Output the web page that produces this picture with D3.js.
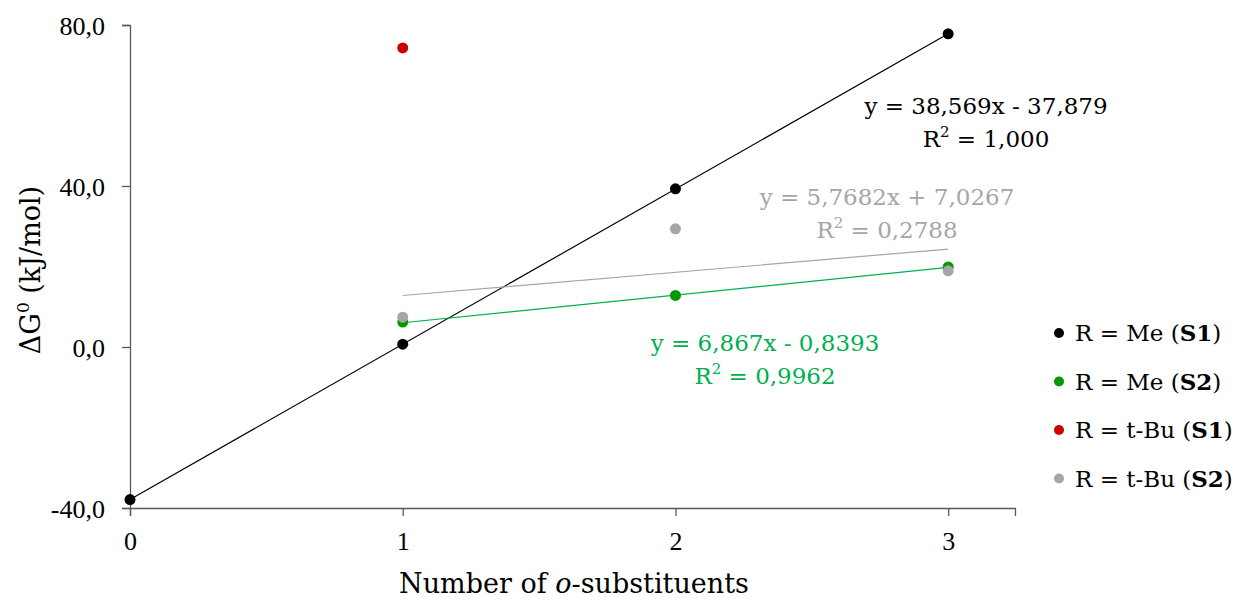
<!DOCTYPE html>
<html>
<head>
<meta charset="utf-8">
<script src="https://cdn.jsdelivr.net/npm/d3@7"></script>
<style>
  body { margin: 0; background: #fff; }
  svg text { font-family: "DejaVu Serif", "Liberation Serif", serif; }
  .tick text { font-family: "Liberation Serif", "DejaVu Serif", serif; }
</style>
</head>
<body>
<div id="chart"></div>
<script>
var width = 1236, height = 598;

// data
var meS1 = [[0, -37.9], [1, 0.7], [2, 39.3], [3, 77.8]];
var meS2 = [[1, 6.2], [2, 12.8], [3, 19.9]];
var tbuS1 = [[1, 74.3]];
var tbuS2 = [[1, 7.4], [2, 29.35], [3, 18.94]];

var xTicks = [0, 1, 2, 3];
var yTicks = [-40, 40, 0, 80];

// trend lines: slope, intercept, x range and label spot
var fits = [
  { a: 38.569, b: -37.879, x0: 0, x1: 3, color: "#000000", eq: "y = 38,569x - 37,879", r2: "1,000", lx: 986, ly: 114 },
  { a: 5.7682, b: 7.0267, x0: 1, x1: 3, color: "#a6a6a6", eq: "y = 5,7682x + 7,0267", r2: "0,2788", lx: 887, ly: 205 },
  { a: 6.867, b: -0.8393, x0: 1, x1: 3, color: "#00b050", eq: "y = 6,867x - 0,8393", r2: "0,9962", lx: 765, ly: 351 }
];

var series = [
  { name: "R = Me", tag: "S1", color: "#000000", pts: meS1 },
  { name: "R = Me", tag: "S2", color: "#009900", pts: meS2 },
  { name: "R = t-Bu", tag: "S1", color: "#cc0000", pts: tbuS1 },
  { name: "R = t-Bu", tag: "S2", color: "#a6a6a6", pts: tbuS2 }
];

var x = d3.scaleLinear().domain([0, 3.245]).range([130, 1015]);
var y = d3.scaleLinear().domain([-40, 80]).range([508, 25]);

var svg = d3.select("#chart").append("svg")
    .attr("width", width)
    .attr("height", height);

var fmt = function(d) { return d3.format(".1f")(d).replace(".", ",").replace("\u2212", "-"); };

// y axis
var yAxis = svg.append("g")
    .attr("transform", "translate(" + x(0) + ",0)")
    .call(d3.axisLeft(y).tickValues(yTicks).tickSize(8).tickPadding(17).tickFormat(fmt));
yAxis.selectAll("text").style("font-size", "26px").attr("fill", "#000").attr("dy", "0.35em");

// x axis
var xAxis = svg.append("g")
    .attr("transform", "translate(0," + y(-40) + ")")
    .call(d3.axisBottom(x).tickValues(xTicks).tickSize(8).tickPadding(16).tickFormat(d3.format("d")));
xAxis.selectAll("text").style("font-size", "26px").attr("fill", "#000");

svg.selectAll(".domain").attr("stroke", "#595959").attr("stroke-width", 1.3);
svg.selectAll(".tick line").attr("stroke", "#595959").attr("stroke-width", 1.3);

// trend lines
svg.selectAll(".fit")
  .data(fits)
  .enter().append("line")
    .attr("class", "fit")
    .attr("x1", function(d) { return x(d.x0); })
    .attr("x2", function(d) { return x(d.x1); })
    .attr("y1", function(d) { return y(d.a * d.x0 + d.b); })
    .attr("y2", function(d) { return y(d.a * d.x1 + d.b); })
    .attr("stroke", function(d) { return d.color; })
    .attr("stroke-width", 1.2);

// points
series.forEach(function(s) {
  svg.append("g").selectAll("circle")
    .data(s.pts)
    .enter().append("circle")
      .attr("cx", function(d) { return x(d[0]); })
      .attr("cy", function(d) { return y(d[1]); })
      .attr("r", 5.5)
      .attr("fill", s.color);
});

// equation labels
fits.forEach(function(f) {
  svg.append("text")
      .attr("x", f.lx)
      .attr("y", f.ly)
      .attr("text-anchor", "middle")
      .attr("fill", f.color)
      .style("font-size", "23px")
      .text(f.eq);
  var t2 = svg.append("text")
      .attr("x", f.lx)
      .attr("y", f.ly + 33)
      .attr("text-anchor", "middle")
      .attr("fill", f.color)
      .style("font-size", "23px");
  t2.append("tspan").text("R");
  t2.append("tspan").attr("dy", -10).style("font-size", "15px").text("2");
  t2.append("tspan").attr("dy", 10).text(" = " + f.r2);
});

// legend
var legend = svg.append("g").selectAll("g")
    .data(series)
  .enter().append("g")
    .attr("transform", function(d, i) { return "translate(1059," + (333 + i * 48.5) + ")"; });
legend.append("circle").attr("r", 5).attr("fill", function(d) { return d.color; });
var lt = legend.append("text")
    .attr("x", 16)
    .attr("dy", "0.35em")
    .style("font-size", "23px")
    .attr("fill", "#000");
lt.append("tspan").text(function(d) { return d.name + " ("; });
lt.append("tspan").style("font-weight", "bold").text(function(d) { return d.tag; });
lt.append("tspan").text(")");

// axis titles
var yt = svg.append("text")
    .attr("transform", "translate(40,270) rotate(-90)")
    .attr("text-anchor", "middle")
    .style("font-size", "27px")
    .attr("fill", "#000");
yt.append("tspan").text("ΔG");
yt.append("tspan").attr("dy", -11).style("font-size", "17px").text("0");
yt.append("tspan").attr("dy", 11).text(" (kJ/mol)");

var xt = svg.append("text")
    .attr("x", 574)
    .attr("y", 593)
    .attr("text-anchor", "middle")
    .style("font-size", "27px")
    .attr("fill", "#000");
xt.append("tspan").text("Number of ");
xt.append("tspan").style("font-style", "italic").text("o");
xt.append("tspan").text("-substituents");
</script>
</body>
</html>
